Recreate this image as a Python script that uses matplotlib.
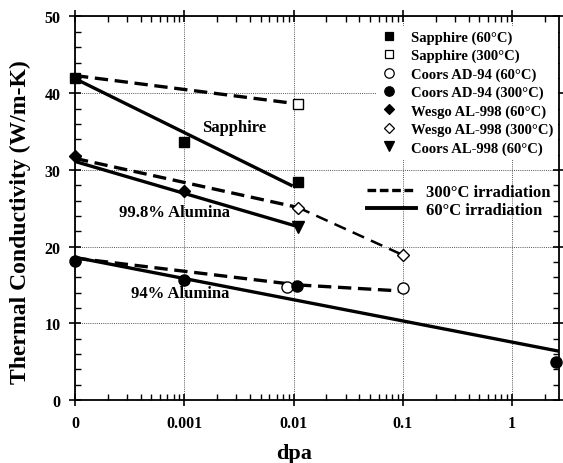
import matplotlib
matplotlib.use("Agg")
import matplotlib.pyplot as plt
from matplotlib.lines import Line2D
from matplotlib.ticker import FixedLocator, LogLocator, MultipleLocator, NullFormatter
import numpy as np

# ---- measured thermal conductivity (W/m-K) vs. dose (dpa) ----
sapphire_60_dpa = [0, 0.001, 0.011]
sapphire_60_k = [42.0, 33.6, 28.4]
sapphire_300_dpa = [0.011]
sapphire_300_k = [38.6]
ad94_60_dpa = [0.0087, 0.1]
ad94_60_k = [14.7, 14.6]
ad94_300_dpa = [0, 0.001, 0.0107, 2.5]
ad94_300_k = [18.1, 15.7, 14.9, 5.0]
wesgo_60_dpa = [0, 0.001]
wesgo_60_k = [31.8, 27.3]
wesgo_300_dpa = [0.011, 0.1]
wesgo_300_k = [25.0, 18.9]
coors998_60_dpa = [0.011]
coors998_60_k = [22.5]

# ---- trend lines ----
trend_sapphire_300_dpa = [0, 0.011]
trend_sapphire_300_k = [42.3, 38.6]
trend_sapphire_60_dpa = [0, 0.0095]
trend_sapphire_60_k = [41.9, 28.0]
trend_998_300_dpa = [0, 0.011]
trend_998_300_k = [31.5, 25.1]
trend_998_300_ext_dpa = [0.011, 0.1]
trend_998_300_ext_k = [25.1, 18.9]
trend_998_60_dpa = [0, 0.011]
trend_998_60_k = [31.1, 22.6]
trend_94_300_dpa = [0, 0.011]
trend_94_300_k = [18.5, 15.0]
trend_94_300_ext_dpa = [0.011, 0.1]
trend_94_300_ext_k = [15.0, 14.2]
trend_94_60_dpa = [0, 2.6]
trend_94_60_k = [18.6, 6.4]

x_tick_values = [0, 0.001, 0.01, 0.1, 1]
x_tick_labels = ["0", "0.001", "0.01", "0.1", "1"]
y_ticks = [0, 10, 20, 30, 40, 50]

# the unirradiated (0 dpa) state sits at the left edge of the log axis
DPA_ZERO = 1e-4
X_MAX = 2.69


def pos(d):
    return [DPA_ZERO if v == 0 else v for v in d]


plt.rcParams["font.family"] = ["Liberation Serif", "DejaVu Serif"]
plt.rcParams["font.weight"] = "bold"

fig = plt.figure(figsize=(5.63, 4.64), dpi=100)
ax = fig.add_axes([0.1332, 0.1358, 0.8597, 0.8265])

ax.set_xscale("log")
ax.set_xlim(DPA_ZERO, X_MAX)
ax.set_ylim(0, 50)

ax.xaxis.set_major_locator(FixedLocator(pos(x_tick_values)))
ax.set_xticklabels(x_tick_labels)
ax.xaxis.set_minor_locator(LogLocator(base=10, subs=np.arange(2, 10)))
ax.xaxis.set_minor_formatter(NullFormatter())
ax.set_yticks(y_ticks)
ax.yaxis.set_minor_locator(MultipleLocator(2))

ax.tick_params(which="major", direction="inout", length=9, width=1.2,
               top=True, right=True, labelsize=11.5, pad=6)
ax.tick_params(which="minor", direction="in", length=4, width=1.0,
               top=True, right=True)
for lab in ax.get_xticklabels() + ax.get_yticklabels():
    lab.set_fontweight("bold")
for s in ax.spines.values():
    s.set_linewidth(1.3)

ax.grid(True, which="major", linestyle=(0, (1, 1.2)), color="#555555", linewidth=0.7)
ax.set_axisbelow(True)

dash = (0, (4, 2))
LW = 2.4
ax.plot(pos(trend_sapphire_300_dpa), trend_sapphire_300_k, "k", ls=dash, lw=LW)
ax.plot(pos(trend_sapphire_60_dpa), trend_sapphire_60_k, "k-", lw=LW)
ax.plot(pos(trend_998_300_dpa), trend_998_300_k, "k", ls=dash, lw=LW)
ax.plot(pos(trend_998_300_ext_dpa), trend_998_300_ext_k, "k", ls=(0, (5, 3)), lw=1.8)
ax.plot(pos(trend_998_60_dpa), trend_998_60_k, "k-", lw=LW)
ax.plot(pos(trend_94_300_dpa), trend_94_300_k, "k", ls=dash, lw=LW)
ax.plot(pos(trend_94_300_ext_dpa), trend_94_300_ext_k, "k", ls=dash, lw=LW)
ax.plot(pos(trend_94_60_dpa), trend_94_60_k, "k-", lw=LW)

mk = dict(linestyle="none", color="k", clip_on=False, zorder=4)
series = [
    (sapphire_60_dpa, sapphire_60_k, "s", "k", 7.5, "Sapphire (60°C)"),
    (sapphire_300_dpa, sapphire_300_k, "s", "white", 7.5, "Sapphire (300°C)"),
    (ad94_60_dpa, ad94_60_k, "o", "white", 8, "Coors AD-94 (60°C)"),
    (ad94_300_dpa, ad94_300_k, "o", "k", 8, "Coors AD-94 (300°C)"),
    (wesgo_60_dpa, wesgo_60_k, "D", "k", 6.5, "Wesgo AL-998 (60°C)"),
    (wesgo_300_dpa, wesgo_300_k, "D", "white", 6.5, "Wesgo AL-998 (300°C)"),
    (coors998_60_dpa, coors998_60_k, "v", "k", 8.5, "Coors AL-998 (60°C)"),
]
handles = []
for d, k, m, fc, ms, lab in series:
    ax.plot(pos(d), k, marker=m, markersize=ms, markerfacecolor=fc,
            markeredgecolor="k", markeredgewidth=1.0, **mk)
    handles.append(Line2D([], [], linestyle="none", marker=m, markersize=ms * 0.85,
                          markerfacecolor=fc, markeredgecolor="k",
                          markeredgewidth=0.9, label=lab))

leg1 = ax.legend(handles=handles, loc="upper left", bbox_to_anchor=(0.625, 0.975),
                 frameon=True, facecolor="white", edgecolor="none", framealpha=1,
                 fancybox=False, prop={"size": 10.5, "weight": "bold"},
                 handlelength=1.0, handletextpad=1.0, labelspacing=0.34,
                 borderpad=0.3, borderaxespad=0)
leg1.set_zorder(5)
ax.add_artist(leg1)

line_handles = [
    Line2D([], [], color="k", ls=(0, (2.6, 1.1)), lw=LW, label="300°C irradiation"),
    Line2D([], [], color="k", ls="-", lw=2.8, label="60°C irradiation"),
]
leg2 = ax.legend(handles=line_handles, loc="upper left", bbox_to_anchor=(0.59, 0.58),
                 frameon=False, prop={"size": 12, "weight": "bold"},
                 handlelength=2.9, handletextpad=0.65, labelspacing=0.1,
                 borderaxespad=0)
leg2.set_zorder(5)

ax.text(2.85e-3, 35.6, "Sapphire", ha="center", va="center", fontsize=12, fontweight="bold")
ax.text(8.2e-4, 24.5, "99.8% Alumina", ha="center", va="center", fontsize=12, fontweight="bold")
ax.text(9.1e-4, 13.95, "94% Alumina", ha="center", va="center", fontsize=12, fontweight="bold")

ax.set_xlabel("dpa", fontsize=16, fontweight="bold")
ax.xaxis.set_label_coords(0.452, -0.112)
ax.set_ylabel("Thermal Conductivity (W/m-K)", fontsize=17, fontweight="bold")
ax.yaxis.set_label_coords(-0.09, 0.466)

fig.savefig("out.png", dpi=100)
